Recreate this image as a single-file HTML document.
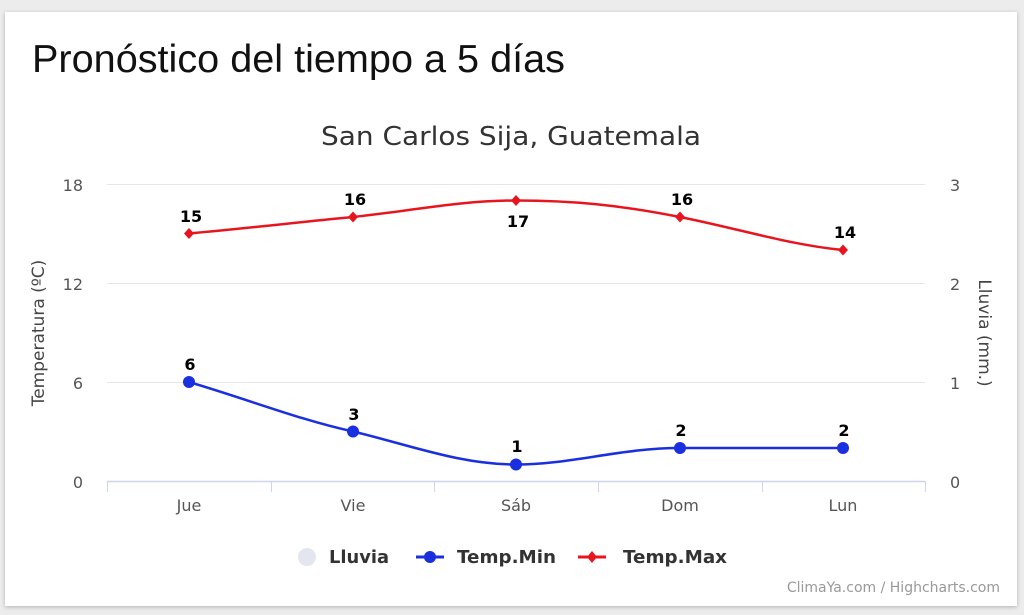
<!DOCTYPE html>
<html><head><meta charset="utf-8"><style>
body{margin:0;width:1024px;height:615px;background:#ececec;overflow:hidden;font-family:"Liberation Sans",sans-serif}
.card{position:absolute;left:5px;top:12px;width:1012px;height:594px;background:#fff;box-shadow:0 1px 4px rgba(0,0,0,.25)}
</style></head><body>
<div class="card"></div>
<svg width="1024" height="615" style="position:absolute;left:0;top:0" font-family="DejaVu Sans, Liberation Sans, sans-serif">
<text x="32" y="72" font-family="Liberation Sans, sans-serif" font-size="39" fill="#111" textLength="533" lengthAdjust="spacingAndGlyphs">Pronóstico del tiempo a 5 días</text>
<text x="321" y="145" font-size="26" fill="#333" textLength="380" lengthAdjust="spacingAndGlyphs">San Carlos Sija, Guatemala</text>
<g stroke="#e6e6e6" stroke-width="1">
<line x1="107" x2="925" y1="184.5" y2="184.5"/><line x1="107" x2="925" y1="283.5" y2="283.5"/><line x1="107" x2="925" y1="382.5" y2="382.5"/>
</g>
<line x1="107" x2="925" y1="481.5" y2="481.5" stroke="#ccd6eb" stroke-width="1.5"/>
<g stroke="#ccd6eb"><line x1="107.5" x2="107.5" y1="481" y2="492"/><line x1="271.5" x2="271.5" y1="481" y2="492"/><line x1="434.5" x2="434.5" y1="481" y2="492"/><line x1="598.5" x2="598.5" y1="481" y2="492"/><line x1="762.5" x2="762.5" y1="481" y2="492"/><line x1="925.5" x2="925.5" y1="481" y2="492"/></g>
<g font-size="16" fill="#555" text-anchor="end"><text x="83" y="191">18</text><text x="83" y="290">12</text><text x="83" y="389">6</text><text x="83" y="488">0</text></g>
<g font-size="16" fill="#555"><text x="950" y="191">3</text><text x="950" y="290">2</text><text x="950" y="389">1</text><text x="950" y="488">0</text></g>
<g font-size="16" fill="#555" text-anchor="middle"><text x="189" y="511">Jue</text><text x="353" y="511">Vie</text><text x="516" y="511">Sáb</text><text x="680" y="511">Dom</text><text x="843" y="511">Lun</text></g>
<text transform="translate(44,333) rotate(-90)" text-anchor="middle" font-size="17" fill="#444">Temperatura (ºC)</text>
<text transform="translate(979,333) rotate(90)" text-anchor="middle" font-size="17" fill="#444">Lluvia (mm.)</text>
<path d="M189 233.5 C250 228 300 222 353 217 C410 211 460 200.5 516 200.5 C572 200.5 620 205 680 217 C740 229 790 245 843 250" fill="none" stroke="#e8151f" stroke-width="2.5"/>
<path d="M189 382 C250 400 300 420 353 431.5 C410 445 460 464.5 516 464.5 C572 464.5 620 448 680 448 C740 448 790 448 843 448" fill="none" stroke="#1a2fe0" stroke-width="2.5"/>
<g fill="#e8151f"><path d="M189 228l5 5.5-5 5.5-5-5.5z"/><path d="M353 211.5l5 5.5-5 5.5-5-5.5z"/><path d="M516 195l5 5.5-5 5.5-5-5.5z"/><path d="M680 211.5l5 5.5-5 5.5-5-5.5z"/><path d="M843 244.5l5 5.5-5 5.5-5-5.5z"/></g>
<g fill="#1a2fe0"><circle cx="189" cy="382" r="6"/><circle cx="353" cy="431.5" r="6"/><circle cx="516" cy="464.5" r="6"/><circle cx="680" cy="448" r="6"/><circle cx="843" cy="448" r="6"/></g>
<g font-size="16" font-weight="bold" fill="#000" text-anchor="middle">
<text x="191" y="222">15</text><text x="355" y="205">16</text><text x="518" y="227">17</text><text x="682" y="205">16</text><text x="845" y="238">14</text>
<text x="190" y="370">6</text><text x="354" y="420">3</text><text x="517" y="452">1</text><text x="681" y="436">2</text><text x="844" y="436">2</text>
</g>
<circle cx="307" cy="557" r="9" fill="#e3e6ee"/>
<text x="329" y="563" font-size="18" font-weight="bold" fill="#333" textLength="60" lengthAdjust="spacingAndGlyphs">Lluvia</text>
<line x1="416" x2="444" y1="557" y2="557" stroke="#1a2fe0" stroke-width="3"/><circle cx="430" cy="557" r="6" fill="#1a2fe0"/>
<text x="457" y="563" font-size="18" font-weight="bold" fill="#333" textLength="99" lengthAdjust="spacingAndGlyphs">Temp.Min</text>
<line x1="578" x2="606" y1="557" y2="557" stroke="#e8151f" stroke-width="3"/><path d="M592 551l5 6-5 6-5-6z" fill="#e8151f"/>
<text x="623" y="563" font-size="18" font-weight="bold" fill="#333" textLength="104" lengthAdjust="spacingAndGlyphs">Temp.Max</text>
<text x="1000" y="592" text-anchor="end" font-size="14" fill="#999">ClimaYa.com / Highcharts.com</text>
</svg>
</body></html>
